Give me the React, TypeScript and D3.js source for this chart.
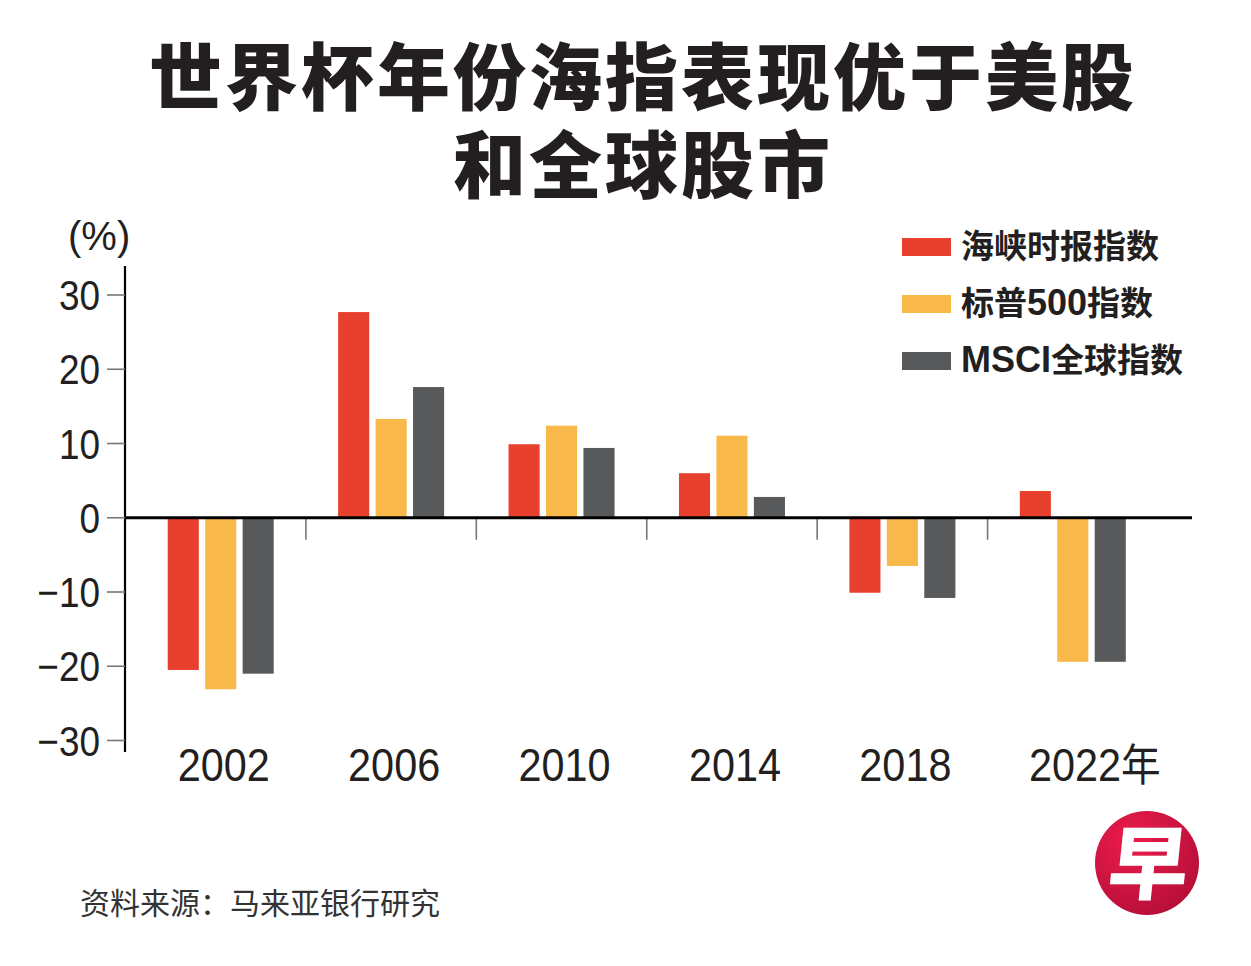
import React from "react";
import * as d3 from "d3";

const years = ["2002", "2006", "2010", "2014", "2018", "2022"];
const yearLabels = ["2002", "2006", "2010", "2014", "2018", "2022年"];
const seriesNames = ["海峡时报指数", "标普500指数", "MSCI全球指数"];
const seriesColors = ["#e8402e", "#f9b94a", "#58595b"];
const stiValues = [-20.5, 27.7, 9.9, 6.0, -10.1, 3.6];
const spxValues = [-23.1, 13.3, 12.4, 11.05, -6.5, -19.4];
const msciValues = [-21.0, 17.6, 9.4, 2.8, -10.8, -19.4];
const yTicks = [-30, -20, -10, 0, 10, 20, 30];
const titleLines = ["世界杯年份海指表现优于美股", "和全球股市"];
const sourceText = "资料来源：马来亚银行研究";

const W = 1251;
const H = 966;
const TEXT = "#231f20";
const NUM_FONT = "'Liberation Sans', Arial, Helvetica, sans-serif";
const CJK_FONT = "'Noto Sans CJK SC', 'Noto Sans', sans-serif";

// split a label into latin / CJK runs so latin parts use the sans font
function runs(s: string) {
  const out: { t: string; latin: boolean }[] = [];
  for (const ch of s) {
    const latin = /[A-Za-z0-9]/.test(ch);
    const last = out[out.length - 1];
    if (last && last.latin === latin) last.t += ch;
    else out.push({ t: ch, latin });
  }
  return out;
}

export default function App() {
  const seriesValues = [stiValues, spxValues, msciValues];
  const x = d3.scaleBand<string>().domain(years).range([135.5, 1158]);
  const inner = d3
    .scaleBand<string>()
    .domain(seriesNames)
    .range([-53, 53])
    .paddingInner(0.17);
  const y = d3.scaleLinear().domain([-30, 30]).range([740.5, 295]);
  const y0 = y(0);
  const fmt = (v: number) => (v < 0 ? "\u2212" + Math.abs(v) : String(v));

  return (
    <svg
      width={W}
      height={H}
      viewBox={`0 0 ${W} ${H}`}
      style={{ position: "absolute", left: 0, top: 0, background: "#fff" }}
    >
      <defs>
        <radialGradient id="logoGrad" cx="35%" cy="30%" r="80%">
          <stop offset="0%" stopColor="#ec1c4c" />
          <stop offset="100%" stopColor="#b30e37" />
        </radialGradient>
      </defs>
      <rect x={0} y={0} width={W} height={H} fill="#fff" />

      {/* Title (one text, two lines) */}
      <text
        x={643}
        y={104}
        textAnchor="middle"
        fontFamily={CJK_FONT}
        fontWeight={900}
        fontSize={73}
        letterSpacing={3}
        fill={TEXT}
      >
        {titleLines.map((t, i) => (
          <tspan key={i} x={643} dy={i === 0 ? 0 : 88}>
            {t}
          </tspan>
        ))}
      </text>

      {/* unit */}
      <text x={68} y={250} fontFamily={NUM_FONT} fontSize={40} fill={TEXT}>
        (%)
      </text>

      {/* Legend */}
      {seriesNames.map((s, i) => (
        <g key={s} transform={`translate(0, ${i * 57})`}>
          <rect x={902} y={238} width={49} height={18} fill={seriesColors[i]} />
          <text x={961} y={258} fontWeight={700} fontSize={33} fill={TEXT}>
            {runs(s).map((r, k) => (
              <tspan
                key={k}
                fontFamily={r.latin ? NUM_FONT : CJK_FONT}
                fontSize={r.latin ? 36 : 33}
              >
                {r.t}
              </tspan>
            ))}
          </text>
        </g>
      ))}

      {/* Y axis */}
      <line x1={125} x2={125} y1={266} y2={752} stroke="#000" strokeWidth={2.2} />
      {yTicks.map((t) => (
        <g key={t}>
          <line x1={107} x2={125} y1={y(t)} y2={y(t)} stroke="#777" strokeWidth={1.6} />
          <text
            transform={`translate(100, ${y(t) + 15}) scale(0.88, 1)`}
            textAnchor="end"
            fontFamily={NUM_FONT}
            fontSize={42}
            fill={TEXT}
          >
            {fmt(t)}
          </text>
        </g>
      ))}

      {/* Bars */}
      {years.map((yr, gi) => (
        <g key={yr} transform={`translate(${(x(yr) as number) + x.bandwidth() / 2}, 0)`}>
          {seriesNames.map((s, si) => {
            const v = seriesValues[si][gi];
            return (
              <rect
                key={s}
                x={inner(s) as number}
                width={inner.bandwidth()}
                y={Math.min(y(v), y0)}
                height={Math.abs(y(v) - y0)}
                fill={seriesColors[si]}
              />
            );
          })}
        </g>
      ))}

      {/* Category separators */}
      {years.slice(1).map((yr) => (
        <line
          key={yr}
          x1={x(yr) as number}
          x2={x(yr) as number}
          y1={y0}
          y2={y0 + 22}
          stroke="#777"
          strokeWidth={1.6}
        />
      ))}

      {/* Zero line */}
      <line x1={125} x2={1192} y1={y0} y2={y0} stroke="#000" strokeWidth={3} />

      {/* X labels */}
      {years.map((yr, i) => {
        const cx = (x(yr) as number) + x.bandwidth() / 2;
        const label = yearLabels[i];
        const isLast = label.length > 4;
        return (
          <text
            key={yr}
            transform={`translate(${isLast ? cx + 22 : cx + 3}, 781) scale(0.9, 1)`}
            textAnchor="middle"
            fontFamily={NUM_FONT}
            fontSize={46}
            fill={TEXT}
          >
            {label.slice(0, 4)}
            {isLast ? (
              <tspan fontFamily={CJK_FONT} fontSize={44}>
                {label.slice(4)}
              </tspan>
            ) : null}
          </text>
        );
      })}

      {/* Source */}
      <text x={80} y={914} fontFamily={CJK_FONT} fontSize={30} fill="#333">
        {sourceText}
      </text>

      {/* Logo */}
      <circle cx={1147} cy={863} r={52} fill="url(#logoGrad)" />
      <text
        x={1149}
        y={893}
        textAnchor="middle"
        fontFamily={CJK_FONT}
        fontWeight={900}
        fontSize={80}
        fill="#fff"
        transform="skewX(-6)"
        style={{ transformOrigin: "1147px 863px" } as any}
      >
        早
      </text>
    </svg>
  );
}
